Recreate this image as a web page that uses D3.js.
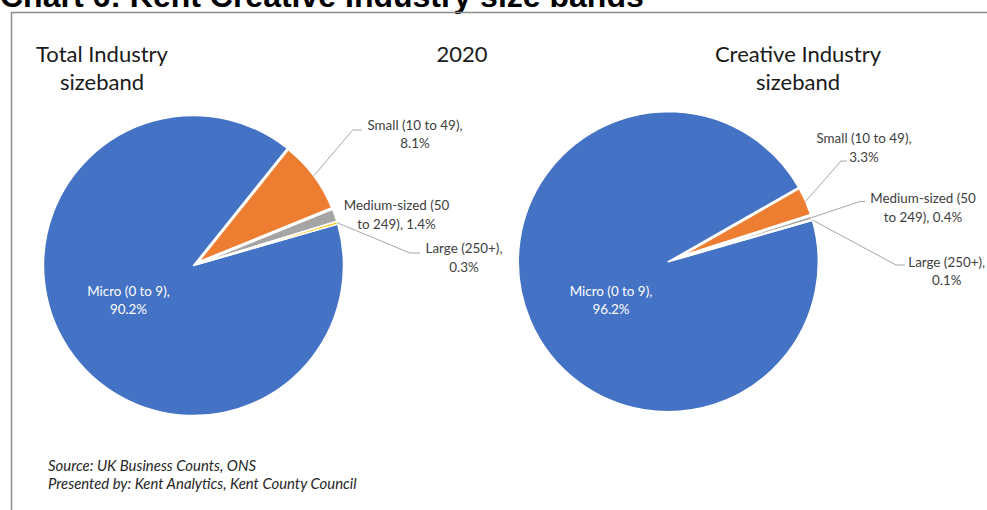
<!DOCTYPE html>
<html>
<head>
<meta charset="utf-8">
<script src="https://cdn.jsdelivr.net/npm/d3@7"></script>
<style>
  html, body { margin: 0; padding: 0; background: #fff; }
  svg { display: block; }
</style>
</head>
<body>
<svg id="chart" width="987" height="510"></svg>
<script>
// ---------------- DATA ----------------
const pageTitle = "Chart 6: Kent Creative Industry size bands";
const yearLabel = "2020";
const categories = ["Micro (0 to 9)", "Small (10 to 49)", "Medium-sized (50 to 249)", "Large (250+)"];
const totalIndustryValues = [90.2, 8.1, 1.4, 0.3];
const creativeIndustryValues = [96.2, 3.3, 0.4, 0.1];
const pieTitles = ["Total Industry sizeband", "Creative Industry sizeband"];
const sourceLines = ["Source: UK Business Counts, ONS", "Presented by: Kent Analytics, Kent County Council"];

// ---------------- LAYOUT / STYLE ----------------
const colors = ["#4472C4", "#ED7D31", "#A5A5A5", "#FFC000"];
const labelFont = "Lato, 'Open Sans', sans-serif";
const startDeg = 74;
const pieLayout = [
  { cx: 193.5, cy: 265.5, r: 150, explode: 6, titleX: 102,
    labels: [
      { dx: -65, dy: 34.5, inside: true },
      { dx: 221.5, dy: -131.5, leader: [[159.2, -135.5], [168.2, -135.5]] },
      { dx: 203, dy: -51 },
      { dx: 270.5, dy: -8, leader: [[216.5, -12.5], [226.5, -12.5]] }
    ] },
  { cx: 668.3, cy: 261.7, r: 150, explode: 14, titleX: 798,
    labels: [
      { dx: -57.3, dy: 38.3, inside: true },
      { dx: 195.7, dy: -114.2, leader: [[172.7, -100.7], [178.7, -100.7]] },
      { dx: 254.7, dy: -54.2, leader: [[191.7, -60.2], [196.7, -60.2]] },
      { dx: 278.4, dy: 9.3, leader: [[227.7, 3.3], [236.7, 3.3]] }
    ] }
];

const svg = d3.select("#chart");

// page title (cropped at the top, as in the source image)
svg.append("text")
  .attr("x", 0).attr("y", 6.5)
  .attr("font-family", "'Liberation Sans', Arial, sans-serif")
  .attr("font-weight", "bold")
  .attr("font-size", 32)
  .attr("fill", "#000")
  .text(pageTitle);

// chart frame
svg.append("path")
  .attr("d", "M11.5,510 V12.5 H987")
  .attr("fill", "none")
  .attr("stroke", "#8c8c8c")
  .attr("stroke-width", 1.5);

function wrap(str, maxChars) {
  const words = str.split(" ");
  const lines = [];
  let cur = "";
  words.forEach(w => {
    const test = cur ? cur + " " + w : w;
    if (test.length > maxChars && cur) { lines.push(cur); cur = w; }
    else cur = test;
  });
  if (cur) lines.push(cur);
  return lines;
}

function multiText(g, x, y, lines, lh, attrs) {
  const t = g.append("text")
    .attr("text-anchor", "middle")
    .attr("dominant-baseline", "central");
  Object.entries(attrs).forEach(([k, v]) => t.attr(k, v));
  lines.forEach((ln, i) => {
    t.append("tspan")
      .attr("x", x)
      .attr("y", y + (i - (lines.length - 1) / 2) * lh)
      .text(ln);
  });
  return t;
}

const datasets = [totalIndustryValues, creativeIndustryValues];
const start = startDeg * Math.PI / 180;
const pieGen = d3.pie().sort(null).value(d => d.value)
  .startAngle(start).endAngle(start + 2 * Math.PI);

datasets.forEach((vals, pi) => {
  const L = pieLayout[pi];
  const g = svg.append("g").attr("transform", `translate(${L.cx},${L.cy})`);
  const data = categories.map((c, i) => ({ category: c, value: vals[i], index: i }));
  const arcs = pieGen(data);

  arcs.forEach((a, i) => {
    const mid = (a.startAngle + a.endAngle) / 2;
    const e = i === 0 ? 0 : L.explode;
    const r = L.r - e;
    const ox = e * Math.sin(mid), oy = -e * Math.cos(mid);
    const arcGen = d3.arc().innerRadius(0).outerRadius(r);
    g.append("path")
      .attr("transform", `translate(${ox},${oy})`)
      .attr("d", arcGen(a))
      .attr("fill", colors[i])
      .attr("stroke", "#fff")
      .attr("stroke-width", 1.5)
      .attr("stroke-linejoin", "round");

    const lab = L.labels[i];
    const text = `${a.data.category}, ${a.data.value.toFixed(1)}%`;
    const lines = wrap(text, 17);
    if (lab.leader) {
      const sx = ox + r * Math.sin(mid), sy = oy - r * Math.cos(mid);
      const pts = [[sx, sy]].concat(lab.leader);
      g.append("path")
        .attr("d", d3.line()(pts))
        .attr("fill", "none")
        .attr("stroke", "#A6A6A6")
        .attr("stroke-width", 1);
    }
    multiText(g, lab.dx, lab.dy, lines, 18.5, {
      "font-family": labelFont,
      "font-size": 13.4,
      "fill": lab.inside ? "#ffffff" : "#404040"
    });
  });

  // pie title
  multiText(svg, L.titleX, 67, wrap(pieTitles[pi], 17), 28.5, {
    "font-family": labelFont,
    "font-size": 22,
    "fill": "#1a1a1a"
  });
});

// year label
multiText(svg, 462, 52.5, [yearLabel], 28.5, {
  "font-family": labelFont, "font-size": 22, "fill": "#1a1a1a"
});

// source
sourceLines.forEach((s, i) => {
  svg.append("text")
    .attr("x", 48).attr("y", 465 + i * 18)
    .attr("dominant-baseline", "central")
    .attr("font-family", labelFont)
    .attr("font-style", "italic")
    .attr("font-size", 14.9)
    .attr("fill", "#262626")
    .text(s);
});
</script>
</body>
</html>
